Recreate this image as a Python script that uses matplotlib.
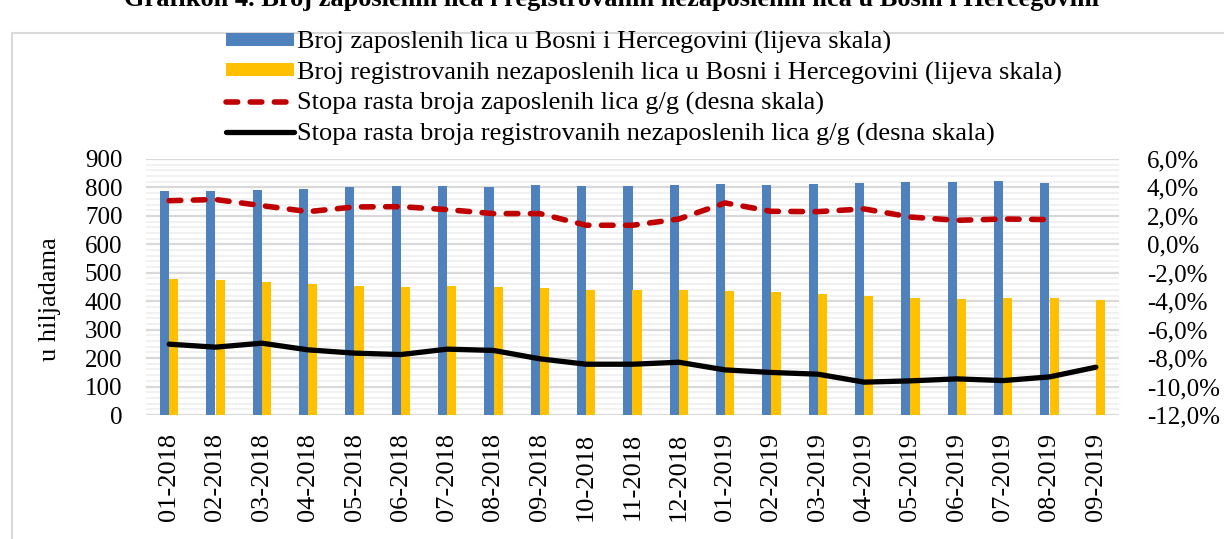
import numpy as np
import matplotlib.pyplot as plt
from matplotlib.ticker import FuncFormatter
from matplotlib.lines import Line2D

plt.rcParams['font.family'] = ['Liberation Serif', 'DejaVu Serif']

months = ['01-2018', '02-2018', '03-2018', '04-2018', '05-2018', '06-2018', '07-2018',
          '08-2018', '09-2018', '10-2018', '11-2018', '12-2018', '01-2019', '02-2019',
          '03-2019', '04-2019', '05-2019', '06-2019', '07-2019', '08-2019', '09-2019']
# u hiljadama (lijeva skala)
zaposleni = [789, 789, 792, 796, 803, 806, 806, 802, 809, 805, 806,
             807, 812, 809, 811, 817, 819, 820, 822, 816, np.nan]
nezaposleni = [479, 475, 468, 461, 453, 451, 453, 451, 445, 440, 438,
               438, 435, 433, 426, 417, 410, 408, 410, 410, 406]
# stope rasta g/g u % (desna skala)
rast_zap = [3.07, 3.15, 2.72, 2.30, 2.63, 2.65, 2.44, 2.16, 2.16, 1.34, 1.34,
            1.78, 2.91, 2.32, 2.30, 2.49, 1.92, 1.69, 1.78, 1.74, np.nan]
rast_nezap = [-7.02, -7.23, -6.95, -7.42, -7.65, -7.75, -7.37, -7.46, -8.05, -8.43, -8.43,
              -8.29, -8.83, -9.01, -9.13, -9.69, -9.60, -9.46, -9.58, -9.32, -8.64]

lbl = ['Broj zaposlenih lica u Bosni i Hercegovini (lijeva skala)',
       'Broj registrovanih nezaposlenih lica u Bosni i Hercegovini (lijeva skala)',
       'Stopa rasta broja zaposlenih lica g/g (desna skala)',
       'Stopa rasta broja registrovanih nezaposlenih lica g/g (desna skala)']

fig = plt.figure(figsize=(12.24, 5.39), dpi=100)
ax = fig.add_axes([146/1224, 1-415/539, (1119-146)/1224, (415-159)/539])

x = np.arange(len(months))
w = 0.2
b1 = ax.bar(x - w/2, zaposleni, w, color='#4f81bd', label=lbl[0])
b2 = ax.bar(x + w/2, nezaposleni, w, color='#ffc000', label=lbl[1])

ax.set_xlim(-0.5, len(months) - 0.5)
ax.set_ylim(0, 900)
ax.set_yticks(np.arange(0, 901, 100))
ax.set_yticks(np.arange(0, 901, 20), minor=True)
ax.set_axisbelow(True)
ax.grid(axis='y', which='minor', color='#efefef', lw=1.2)
ax.grid(axis='y', which='major', color='#d9d9d9', lw=1.6)
ax.set_xticks(x)
ax.set_xticklabels(months, rotation=90, fontsize=19)
ax.tick_params(axis='both', length=0, which='both')
ax.tick_params(axis='y', labelsize=18, pad=17)
ax.tick_params(axis='x', pad=13)
for s in ax.spines.values():
    s.set_visible(False)
ax.set_ylabel('u hiljadama', fontsize=19, va='center')
ax.yaxis.set_label_coords((50-146)/(1119-146), (415-299)/256)

ax2 = ax.twinx()
l1, = ax2.plot(x, rast_zap, color='#c00000', lw=4, dashes=(2.1, 2.25),
               dash_capstyle='round', label=lbl[2])
l2, = ax2.plot(x, rast_nezap, color='black', lw=3.8, solid_capstyle='round', label=lbl[3])
ax2.set_ylim(-12, 6)
ax2.set_yticks(np.arange(-12, 6.1, 2))
ax2.yaxis.set_major_formatter(FuncFormatter(lambda v, p: f'{v:.1f}%'.replace('.', ',')))
ax2.tick_params(axis='y', length=0, labelsize=18, pad=20)
for s in ax2.spines.values():
    s.set_visible(False)

fig.legend(handles=[b1, b2, l1, l2], loc='upper left', bbox_to_anchor=(226/1224, 1-31/539),
           frameon=False, fontsize=19, handlelength=2.58, handleheight=0.4,
           handletextpad=0.1, labelspacing=0.28, borderaxespad=0, borderpad=0)

fig.text(0.5, 1-6/539, 'Grafikon 4. Broj zaposlenih lica i registrovanih nezaposlenih lica u Bosni i Hercegovini',
         ha='center', va='baseline', fontsize=19, fontweight='bold')

# okvir grafikona
fig.add_artist(Line2D([12/1224, 12/1224], [0, 1-33/539], transform=fig.transFigure, color='#d9d9d9', lw=1.5))
fig.add_artist(Line2D([12/1224, 1], [1-33/539, 1-33/539], transform=fig.transFigure, color='#d9d9d9', lw=1.5))

fig.savefig('out.png', dpi=100)
